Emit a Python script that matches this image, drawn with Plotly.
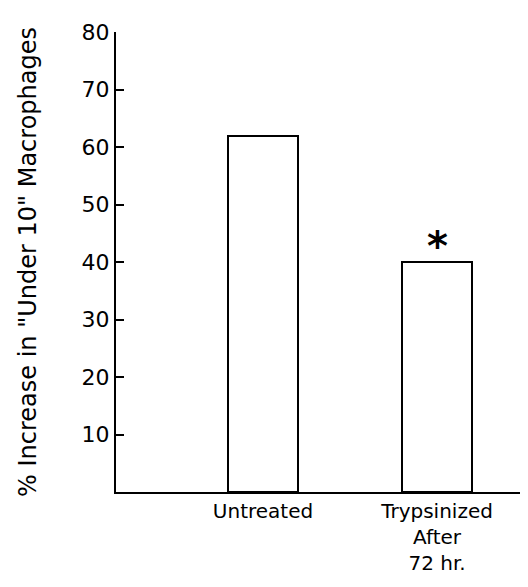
import plotly.graph_objects as go

categories = ["Untreated", "Trypsinized<br>After<br>72 hr."]
values = [62, 40]
y_ticks = [10, 20, 30, 40, 50, 60, 70, 80]
y_title = '% Increase in "Under 10" Macrophages'
significance = ["", "*"]

FONT = "DejaVu Sans"

fig = go.Figure()
fig.add_trace(go.Bar(
    x=categories, y=values, width=0.40,
    marker=dict(color="white", line=dict(color="black", width=2)),
    showlegend=False,
))

for cat, v, s in zip(categories, values, significance):
    if s:
        fig.add_annotation(x=cat, y=v, text="<b>" + s + "</b>", showarrow=False, yanchor="bottom",
                           yshift=-9, font=dict(family=FONT, size=40, color="black"))

# page body adds an 8px offset, so the figure is sized to fit the window
fig.update_layout(
    width=520, height=579,
    margin=dict(l=108, r=1, t=24, b=95),
    plot_bgcolor="white", paper_bgcolor="white",
    font=dict(family=FONT, color="black"),
    bargap=0,
)
fig.update_xaxes(
    type="category", range=[-0.845, 1.517],
    showline=True, linecolor="black", linewidth=2,
    ticks="", showgrid=False, zeroline=False, automargin=False,
    tickfont=dict(size=20, family=FONT),
)
fig.update_yaxes(
    range=[0, 80], tickvals=y_ticks,
    showline=True, linecolor="black", linewidth=2,
    ticks="inside", ticklen=8, tickwidth=2, tickcolor="black",
    showgrid=False, zeroline=False, automargin=False,
    tickfont=dict(size=22, family=FONT),
    title=dict(text=y_title, font=dict(size=24, family=FONT), standoff=38),
)

fig.write_html("out.html")
